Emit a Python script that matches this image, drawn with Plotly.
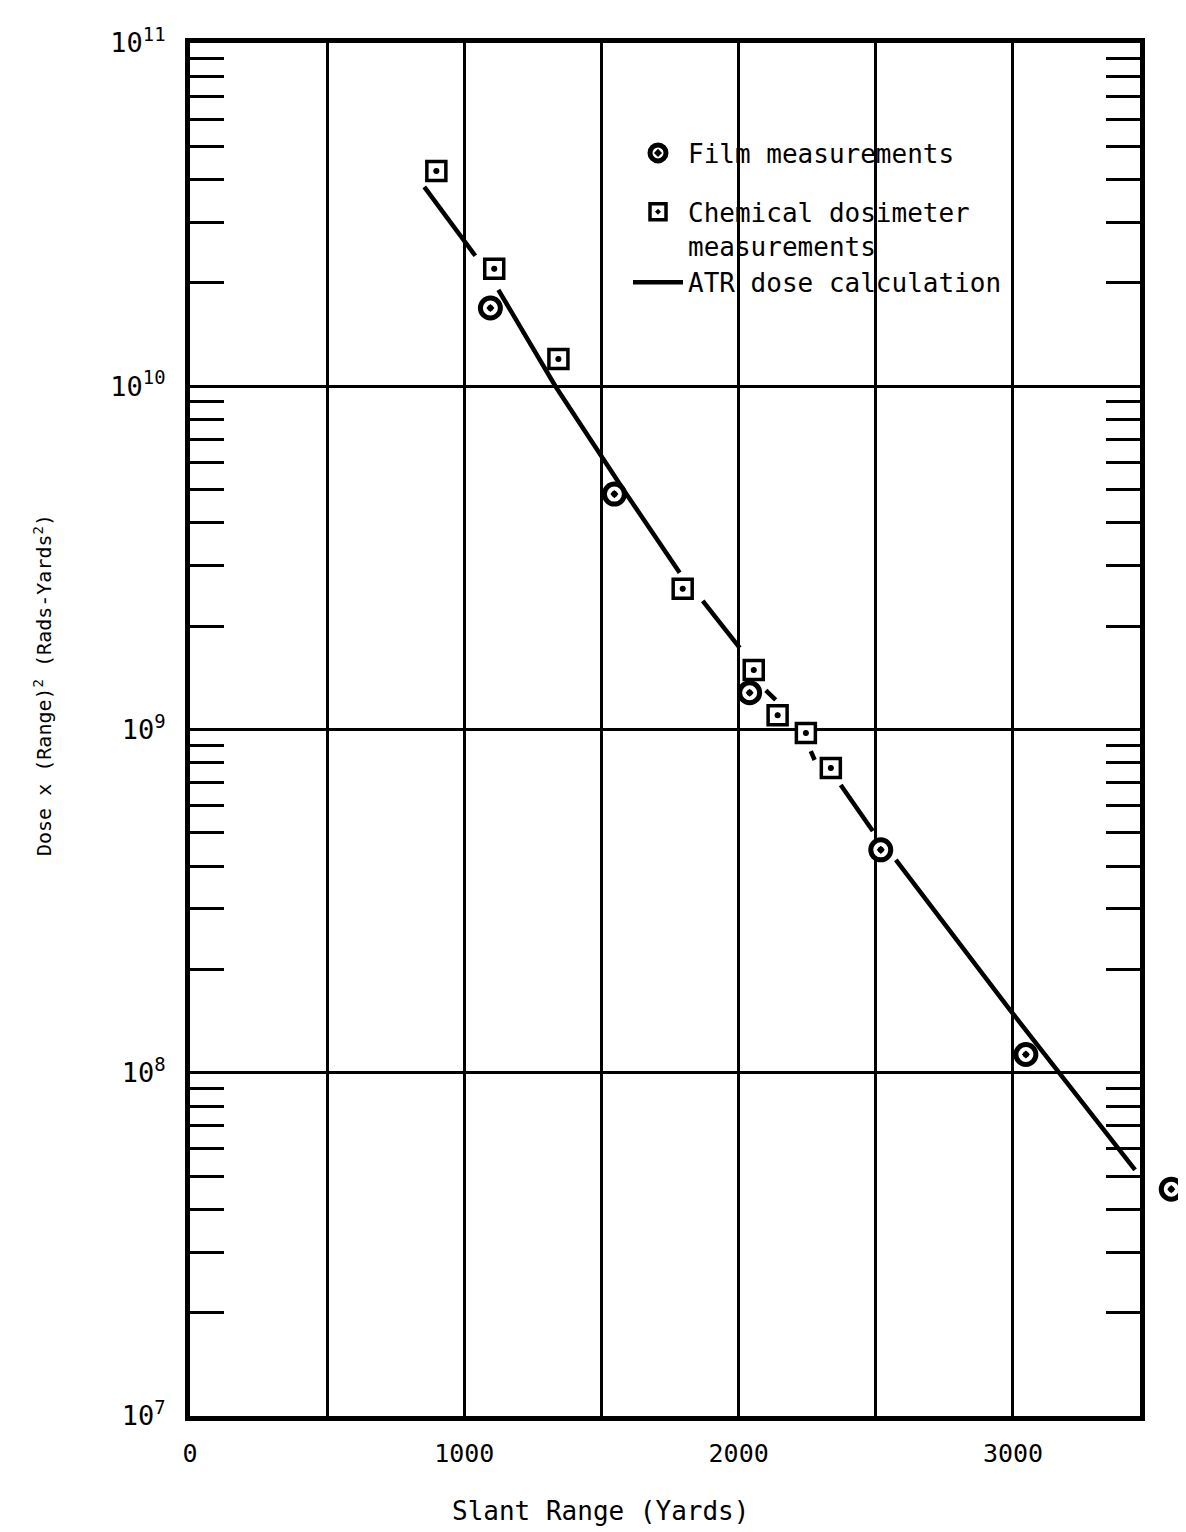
import plotly.graph_objects as go

# Film measurements (circle with dot)
film_x = [1095, 1547, 2040, 2518, 3047, 3577]
film_y = [1.69e10, 4.85e9, 1.28e9, 4.46e8, 1.13e8, 4.58e7]

# Chemical dosimeter measurements (square with dot)
chem_x = [898, 1109, 1343, 1796, 2055, 2142, 2245, 2336]
chem_y = [4.24e10, 2.20e10, 1.20e10, 2.57e9, 1.49e9, 1.10e9, 9.77e8, 7.72e8]

# ATR dose calculation (line, broken where it meets the symbols)
atr_x = [854, 1040, None, 1124, 1332, 1588, 1785, None, 1869, 2004, None,
         2099, 2135, None, 2263, 2277, None, 2372, 2489, None, 2573, 2982, 3445]
atr_y = [3.81e10, 2.40e10, None, 1.91e10, 1.00e10, 4.89e9, 2.86e9, None, 2.37e9, 1.73e9, None,
         1.30e9, 1.22e9, None, 8.65e8, 8.15e8, None, 6.89e8, 5.06e8, None, 4.17e8, 1.55e8, 5.21e7]

x_tickvals = [0, 1000, 2000, 3000]
x_ticktext = ["0", "1000", "2000", "3000"]
x_minor = [500, 1500, 2500]
y_tickvals = [1e7, 1e8, 1e9, 1e10, 1e11]
y_ticktext = ["10<sup>7</sup>", "10<sup>8</sup>", "10<sup>9</sup>", "10<sup>10</sup>", "10<sup>11</sup>"]
y_minor = [k * 10 ** e for e in range(7, 11) for k in range(2, 10)]

FONT = "DejaVu Sans Mono"
L, R, T, B = 182, 10, 35, 124
PW, PH = 1186 - L - R, 1532 - T - B
FRAME_W = 950                      # width of the framed plot area in px
X_MAX = 3463                       # x value at the right frame
DOM = FRAME_W / PW                 # x-domain of the framed axes
X2_MAX = X_MAX * PW / FRAME_W      # same scale, extended to the paper edge


def px(xr):
    return (xr - 5 - L) / PW


def py(yr):
    return 1 - (yr - 5 - T) / PH


fig = go.Figure()
fig.add_trace(go.Scatter(
    x=atr_x, y=atr_y, mode="lines", name="ATR dose calculation",
    line=dict(color="black", width=4.5), legendgroup="b", legendrank=3,
    connectgaps=False,
))
fig.add_trace(go.Scatter(
    x=film_x, y=film_y, mode="markers", name="Film measurements",
    marker=dict(symbol="circle-dot", size=20, color="white",
                line=dict(color="black", width=5)),
    cliponaxis=False, legendgroup="a", legendrank=1, xaxis="x2", yaxis="y2",
))
fig.add_trace(go.Scatter(
    x=chem_x, y=chem_y, mode="markers", name="Chemical dosimeter<br>measurements",
    marker=dict(symbol="square-dot", size=19, color="white",
                line=dict(color="black", width=3.5)),
    cliponaxis=False, legendgroup="b", legendrank=2, xaxis="x2", yaxis="y2",
))
# centre dots of the symbols
fig.add_trace(go.Scatter(
    x=film_x + chem_x, y=film_y + chem_y, mode="markers", showlegend=False,
    marker=dict(symbol="circle", size=6, color="black"), cliponaxis=False,
    hoverinfo="skip", xaxis="x2", yaxis="y2",
))

fig.update_layout(
    width=1186, height=1532,
    margin=dict(l=L, r=R, t=T, b=B),
    paper_bgcolor="white", plot_bgcolor="rgba(0,0,0,0)",
    font=dict(family=FONT, size=26, color="black"),
    showlegend=True,
    legend=dict(
        x=px(625), y=0.937, xanchor="left", yanchor="top",
        bgcolor="rgba(0,0,0,0)", traceorder="grouped", tracegroupgap=22,
        font=dict(family=FONT, size=26), valign="top", itemwidth=50,
    ),
    xaxis=dict(
        domain=[0, DOM],
        range=[0, X_MAX], tickmode="array", tickvals=x_tickvals, ticktext=x_ticktext,
        showgrid=True, gridcolor="black", gridwidth=2.5,
        showline=True, linecolor="black", linewidth=5, mirror=True,
        ticks="", zeroline=False, ticklabelstandoff=11,
        tickfont=dict(family=FONT, size=25),
        minor=dict(tickmode="array", tickvals=x_minor, ticks="", showgrid=True,
                   gridcolor="black", gridwidth=2.5),
    ),
    yaxis=dict(
        type="log", range=[7, 11], tickmode="array", tickvals=y_tickvals, ticktext=y_ticktext,
        showgrid=True, gridcolor="black", gridwidth=2.5,
        showline=True, linecolor="black", linewidth=5, mirror="ticks",
        ticks="", zeroline=False, ticklabelstandoff=14,
        tickfont=dict(family=FONT, size=27),
        minor=dict(tickmode="array", tickvals=y_minor, ticks="inside", ticklen=34,
                   tickwidth=3, tickcolor="black", showgrid=False),
    ),
    xaxis2=dict(domain=[0, 1], range=[0, X2_MAX], anchor="y2", visible=False,
                showgrid=False, zeroline=False),
    yaxis2=dict(domain=[0, 1], type="log", range=[7, 11], anchor="x2", visible=False,
                showgrid=False, zeroline=False),
)

fig.add_annotation(
    text="Slant Range (Yards)", xref="paper", yref="paper",
    x=px(597), y=py(1508), xanchor="center", yanchor="middle",
    showarrow=False, font=dict(family=FONT, size=26),
)
fig.add_annotation(
    text="Dose x (Range)<sup>2</sup> (Rads-Yards<sup>2</sup>)", xref="paper", yref="paper",
    x=px(40), y=py(682), xanchor="center", yanchor="middle",
    textangle=-90, showarrow=False, font=dict(family=FONT, size=20),
)

fig.write_html("out.html")
